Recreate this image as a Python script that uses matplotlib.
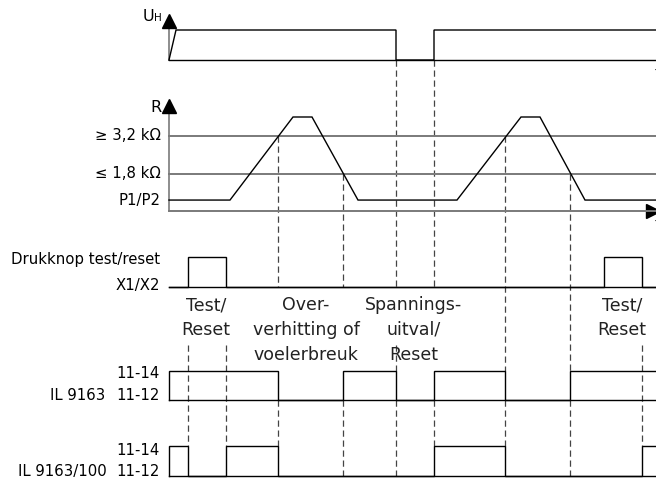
import matplotlib.pyplot as plt

plt.rcParams["font.family"] = ["DejaVu Sans"]

# ---- data: time axis in arbitrary units, t=0 at the vertical axes ----
uh_t = [0, 7, 227, 227, 265, 265, 487]
uh_v = [0, 1, 1, 0, 0, 1, 1]

# resistance curve in kOhm
r_t = [0, 61, 124, 143, 189, 288, 352, 371, 416, 487]
r_v = [0.84, 0.84, 3.9, 3.9, 0.84, 0.84, 3.9, 3.9, 0.84, 0.84]
r_thresholds = [3.2, 1.8]
r_threshold_labels = ["≥ 3,2 kΩ", "≤ 1,8 kΩ"]

btn_t = [0, 19, 19, 57, 57, 435, 435, 473, 473, 487]
btn_v = [0, 0, 1, 1, 0, 0, 1, 1, 0, 0]

il_t = [0, 0, 109, 109, 174, 174, 227, 227, 265, 265, 336, 336, 401, 401, 487]
il_v = [0, 1, 1, 0, 0, 1, 1, 0, 0, 1, 1, 0, 0, 1, 1]

il100_t = [0, 0, 19, 19, 57, 57, 109, 109, 265, 265, 336, 336, 473, 473, 487]
il100_v = [0, 1, 1, 0, 0, 1, 1, 0, 0, 1, 1, 0, 0, 1, 1]

notes = [
    (37, ["Test/", "Reset"]),
    (137, ["Over-", "verhitting of", "voelerbreuk"]),
    (245, ["Spannings-", "uitval/", "Reset"]),
    (453, ["Test/", "Reset"]),
]

X0, X1 = -169, 487
W, H = 656, 479
FS = 10.7

fig = plt.figure(figsize=(W / 100, H / 100), dpi=100)

# background axes in pixel units for labels and dashed guides
bg = fig.add_axes([0, 0, 1, 1])
bg.set_xlim(X0, X1)
bg.set_ylim(H, 0)
bg.axis("off")


def lane(top, bottom, ylo, yhi):
    ax = fig.add_axes([0, 1 - bottom / H, 1, (bottom - top) / H])
    ax.set_xlim(X0, X1)
    ax.set_ylim(ylo, yhi)
    ax.axis("off")
    ax.patch.set_visible(False)
    return ax


sig = dict(color="black", lw=1.0, clip_on=False, solid_joinstyle="miter")
grey = "#7a7a7a"

# ---- U_H ----
ax_u = lane(30, 60, 0, 1)
ax_u.plot([0, X1], [0, 0], **sig)
ax_u.plot(uh_t, uh_v, **sig)
bg.plot([0, 0], [60, 22], color=grey, lw=1.2)
bg.plot(0, 20.5, marker="^", ms=10, color="black")
bg.text(-26, 21, "U", fontsize=11.5, ha="left", va="baseline")
bg.text(-15, 21, "H", fontsize=7.5, ha="left", va="baseline")
bg.text(486, 77, "t", fontsize=10, ha="left", va="baseline")

# ---- R ----
ax_r = lane(136, 174, r_thresholds[1], r_thresholds[0])
for th, lab in zip(r_thresholds, r_threshold_labels):
    ax_r.plot([0, X1], [th, th], color=grey, lw=1.4, clip_on=False)
    ax_r.text(-8, th, lab, fontsize=FS, ha="right", va="center")
ax_r.plot([0, X1], [0.44, 0.44], color=grey, lw=1.4, clip_on=False)
ax_r.plot(r_t, r_v, **sig)
ax_r.text(-8, r_v[0], "P1/P2", fontsize=FS, ha="right", va="center")
bg.plot([0, 0], [211, 108], color=grey, lw=1.2)
bg.plot(0, 106, marker="^", ms=10, color="black")
bg.text(-8, 112, "R", fontsize=11.5, ha="right", va="baseline")
bg.plot(484, 211, marker=">", ms=10, color="black")
bg.text(486, 228, "t", fontsize=10, ha="left", va="baseline")

# ---- push button ----
ax_b = lane(257, 287, 0, 1)
ax_b.plot([0, X1], [0, 0], **sig)
ax_b.plot(btn_t, btn_v, **sig)
bg.text(-9, 264, "Drukknop test/reset", fontsize=FS, ha="right", va="baseline")
bg.text(-9, 290, "X1/X2", fontsize=FS, ha="right", va="baseline")

# ---- IL 9163 ----
ax_i = lane(371, 400, 0, 1)
ax_i.plot([0, X1], [0, 0], **sig)
ax_i.plot(il_t, il_v, **sig)
bg.text(-9, 378, "11-14", fontsize=FS, ha="right", va="baseline")
bg.text(-9, 400, "11-12", fontsize=FS, ha="right", va="baseline")
bg.text(-64, 400, "IL 9163", fontsize=FS, ha="right", va="baseline")

# ---- IL 9163/100 ----
ax_j = lane(446, 476, 0, 1)
ax_j.plot([0, X1], [0, 0], **sig)
ax_j.plot(il100_t, il100_v, **sig)
bg.text(-9, 455, "11-14", fontsize=FS, ha="right", va="baseline")
bg.text(-9, 476, "11-12", fontsize=FS, ha="right", va="baseline")
bg.text(-62, 476, "IL 9163/100", fontsize=FS, ha="right", va="baseline")

# ---- dashed guides (x = event time, y = pixel spans) ----
guides = [
    (109, [(136, 287), (400, 446)]),
    (174, [(174, 287), (400, 476)]),
    (227, [(60, 287), (345, 371), (400, 476)]),
    (265, [(60, 287), (400, 446)]),
    (336, [(136, 371), (400, 446)]),
    (401, [(174, 371), (400, 476)]),
    (19, [(345, 446)]),
    (57, [(345, 446)]),
    (473, [(345, 446)]),
]
for x, spans in guides:
    for y0, y1 in spans:
        bg.plot([x, x], [y0, y1], color="#444444", lw=0.9, ls=(0, (5, 3)))

# ---- annotations ----
for x, lines in notes:
    for k, line in enumerate(lines):
        bg.text(x, 310 + 25 * k, line, fontsize=12.5, ha="center",
                va="baseline", color="#222222")

fig.savefig("out.png", dpi=100)
